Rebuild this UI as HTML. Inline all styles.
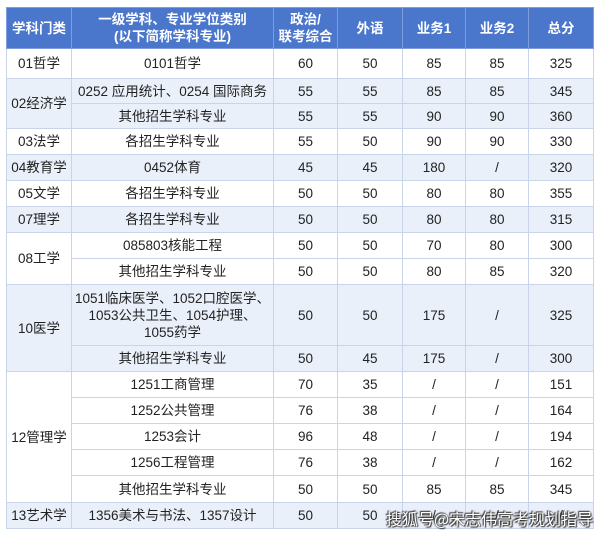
<!DOCTYPE html>
<html><head><meta charset="utf-8"><style>
html,body{margin:0;padding:0;background:#fff;width:600px;height:536px;overflow:hidden}
table{position:absolute;left:6px;top:7px;border-collapse:collapse;table-layout:fixed;font-family:"Liberation Sans","Noto Sans CJK SC",sans-serif;font-size:13.5px;color:#222;border:1.5px solid #9fb3dd}
td,th{border:1px solid #c9d3ea;text-align:center;padding:0;line-height:17px;white-space:nowrap;overflow:hidden}
th{background:#4a76cc;color:#fff;font-weight:bold;border-color:#7e9ddc;height:40px;font-size:13.5px;line-height:17px}
.b td{background:#eaf0fa}
.w{position:absolute;left:386px;top:506px;font-family:"Noto Sans CJK SC",sans-serif;font-size:16px;color:#fff;text-shadow:0 0 2px #333,1px 1px 1px #333,-1px -1px 1px #333;letter-spacing:0}
</style></head><body>
<table>
<colgroup><col style="width:65px"><col style="width:202px"><col style="width:64px"><col style="width:65px"><col style="width:63px"><col style="width:63px"><col style="width:65px"></colgroup>
<tr><th>学科门类</th><th>一级学科、专业学位类别<br>(以下简称学科专业)</th><th>政治/<br>联考综合</th><th>外语</th><th>业务1</th><th>业务2</th><th>总分</th></tr>
<tr style="height:30px"><td>01哲学</td><td>0101哲学</td><td>60</td><td>50</td><td>85</td><td>85</td><td>325</td></tr>
<tr class="b" style="height:25px"><td rowspan="2">02经济学</td><td>0252 应用统计、0254 国际商务</td><td>55</td><td>55</td><td>85</td><td>85</td><td>345</td></tr>
<tr class="b" style="height:25px"><td>其他招生学科专业</td><td>55</td><td>55</td><td>90</td><td>90</td><td>360</td></tr>
<tr style="height:26px"><td>03法学</td><td>各招生学科专业</td><td>55</td><td>50</td><td>90</td><td>90</td><td>330</td></tr>
<tr class="b" style="height:26px"><td>04教育学</td><td>0452体育</td><td>45</td><td>45</td><td>180</td><td>/</td><td>320</td></tr>
<tr style="height:26px"><td>05文学</td><td>各招生学科专业</td><td>50</td><td>50</td><td>80</td><td>80</td><td>355</td></tr>
<tr class="b" style="height:26px"><td>07理学</td><td>各招生学科专业</td><td>50</td><td>50</td><td>80</td><td>80</td><td>315</td></tr>
<tr style="height:26px"><td rowspan="2">08工学</td><td>085803核能工程</td><td>50</td><td>50</td><td>70</td><td>80</td><td>300</td></tr>
<tr style="height:26px"><td>其他招生学科专业</td><td>50</td><td>50</td><td>80</td><td>85</td><td>320</td></tr>
<tr class="b" style="height:61px"><td rowspan="2">10医学</td><td>1051临床医学、1052口腔医学、<br>1053公共卫生、1054护理、<br>1055药学</td><td>50</td><td>50</td><td>175</td><td>/</td><td>325</td></tr>
<tr class="b" style="height:26px"><td>其他招生学科专业</td><td>50</td><td>45</td><td>175</td><td>/</td><td>300</td></tr>
<tr style="height:26px"><td rowspan="5">12管理学</td><td>1251工商管理</td><td>70</td><td>35</td><td>/</td><td>/</td><td>151</td></tr>
<tr style="height:26px"><td>1252公共管理</td><td>76</td><td>38</td><td>/</td><td>/</td><td>164</td></tr>
<tr style="height:26px"><td>1253会计</td><td>96</td><td>48</td><td>/</td><td>/</td><td>194</td></tr>
<tr style="height:26px"><td>1256工程管理</td><td>76</td><td>38</td><td>/</td><td>/</td><td>162</td></tr>
<tr style="height:27px"><td>其他招生学科专业</td><td>50</td><td>50</td><td>85</td><td>85</td><td>345</td></tr>
<tr class="b" style="height:26px"><td>13艺术学</td><td>1356美术与书法、1357设计</td><td>50</td><td>50</td><td>/</td><td>/</td><td>/</td></tr>
</table>
<div class="w">搜狐号@宋志伟高考规划指导</div>
</body></html>
